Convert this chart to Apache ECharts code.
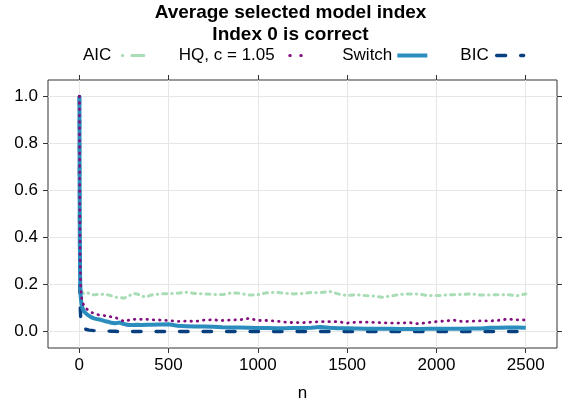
<!DOCTYPE html>
<html>
<head>
<meta charset="utf-8">
<script src="https://cdn.jsdelivr.net/npm/echarts@6/dist/echarts.min.js"></script>
<style>
  html, body { margin: 0; padding: 0; background: #fff; }
  #chart { width: 581px; height: 407px; }
</style>
</head>
<body>
<div id="chart"></div>
<script>
// sample sizes n
var nValues = [1, 2, 3, 5, 8, 12, 18, 26, 35, 45, 55, 70, 82, 100, 120, 140, 160, 180, 200, 225, 250, 275, 300, 325, 350, 375, 400,
  450, 500, 550, 600, 650, 700, 750, 800, 850, 900, 950, 1000, 1050, 1100, 1150, 1200, 1250, 1300, 1350, 1400, 1450, 1500,
  1550, 1600, 1650, 1700, 1750, 1800, 1850, 1900, 1950, 2000, 2050, 2100, 2150, 2200, 2250, 2300, 2350, 2400, 2450, 2500];

// average selected model index per criterion
var aicValues = [1.0, 0.55, 0.35, 0.23, 0.19, 0.17, 0.165, 0.16, 0.162, 0.165, 0.163, 0.158, 0.156, 0.158, 0.157, 0.16, 0.156, 0.152, 0.146, 0.146, 0.142, 0.15, 0.162, 0.16, 0.15, 0.147, 0.155,
  0.16, 0.161, 0.163, 0.167, 0.162, 0.16, 0.158, 0.157, 0.164, 0.163, 0.155, 0.157, 0.165, 0.167, 0.163, 0.16, 0.162, 0.166, 0.165, 0.171, 0.16, 0.153,
  0.157, 0.153, 0.151, 0.146, 0.152, 0.158, 0.16, 0.16, 0.153, 0.153, 0.155, 0.157, 0.158, 0.16, 0.155, 0.156, 0.156, 0.157, 0.152, 0.16];

var hqValues = [1.0, 0.7, 0.5, 0.3, 0.19, 0.15, 0.125, 0.11, 0.1, 0.097, 0.088, 0.081, 0.078, 0.072, 0.07, 0.068, 0.067, 0.062, 0.06, 0.052, 0.043, 0.048, 0.052, 0.052, 0.052, 0.052, 0.05,
  0.049, 0.047, 0.043, 0.045, 0.043, 0.049, 0.05, 0.047, 0.049, 0.05, 0.056, 0.047, 0.047, 0.045, 0.04, 0.038, 0.038, 0.04, 0.042, 0.042, 0.042, 0.036,
  0.04, 0.04, 0.039, 0.037, 0.036, 0.036, 0.038, 0.033, 0.038, 0.042, 0.045, 0.048, 0.042, 0.044, 0.046, 0.045, 0.048, 0.053, 0.05, 0.049];

var switchValues = [1.0, 0.65, 0.4, 0.22, 0.15, 0.12, 0.1, 0.085, 0.078, 0.072, 0.068, 0.06, 0.056, 0.053, 0.05, 0.045, 0.042, 0.037, 0.035, 0.038, 0.032, 0.028, 0.028, 0.029, 0.028, 0.029, 0.029,
  0.03, 0.031, 0.025, 0.023, 0.021, 0.021, 0.02, 0.018, 0.017, 0.017, 0.016, 0.015, 0.015, 0.014, 0.014, 0.015, 0.015, 0.016, 0.019, 0.016, 0.014, 0.014,
  0.013, 0.012, 0.012, 0.012, 0.012, 0.011, 0.011, 0.011, 0.012, 0.012, 0.012, 0.012, 0.012, 0.013, 0.013, 0.016, 0.016, 0.017, 0.017, 0.016];

var bicValues = [1.0, 0.45, 0.2, 0.11, 0.06, 0.03, 0.017, 0.013, 0.01, 0.007, 0.006, 0.005, 0.004, 0.004, 0.003, 0.002, 0.002, 0.001, 0.001, 0, 0, 0, 0, 0, 0, 0, 0,
  0, 0, 0, 0, 0, 0, 0, 0, 0, 0, 0, 0, 0, 0, 0, 0, 0, 0, 0, 0, 0, 0,
  0, 0, 0, 0, 0, 0, 0, 0, 0, 0, 0, 0, 0, 0, 0, 0, 0, 0, 0, 0];

var xTicks = [0, 500, 1000, 1500, 2000, 2500];
var yTicks = [0, 0.2, 0.4, 0.6, 0.8, 1.0];

function pairs(ys) {
  return nValues.map(function (n, i) { return [n, ys[i]]; });
}

var chart = echarts.init(document.getElementById("chart"));
var font = "Liberation Sans";
var tickStyle = { color: "#333" };

chart.setOption({
  animation: false,
  backgroundColor: "#fff",
  title: {
    text: "Average selected model index\nIndex 0 is correct",
    left: "center",
    top: 2,
    padding: 0,
    textStyle: { fontFamily: font, fontSize: 19, fontWeight: "bold", color: "#000", lineHeight: 22 }
  },
  legend: {
    left: 83,
    top: 47,
    padding: 0,
    align: "right",
    itemWidth: 30,
    itemHeight: 18,
    itemGap: 31,
    textStyle: { fontFamily: font, fontSize: 17, color: "#000" },
    data: [
      { name: "AIC", itemStyle: { color: "transparent", borderWidth: 0 },
        lineStyle: { color: "#a8ddb5", width: 3, type: [0.5, 9, 12, 9], dashOffset: 24.5, cap: "round" } },
      { name: "HQ, c = 1.05", itemStyle: { color: "transparent", borderWidth: 0 },
        lineStyle: { color: "#810f7c", width: 3, type: [0.5, 10.5], dashOffset: 1, cap: "round" } },
      { name: "Switch", itemStyle: { color: "transparent", borderWidth: 0 },
        lineStyle: { color: "#2b8cbe", width: 4, type: "solid", cap: "butt" } },
      { name: "BIC", itemStyle: { color: "transparent", borderWidth: 0 },
        lineStyle: { color: "#08407f", width: 3.4, type: [9, 15], dashOffset: 21, cap: "round" } }
    ]
  },
  grid: {
    left: 48, right: 24, top: 80, bottom: 54,
    show: true, borderColor: "#333", borderWidth: 1, backgroundColor: "#fff"
  },
  xAxis: [
    {
      type: "value", min: -175, max: 2675, position: "bottom",
      name: "n", nameLocation: "middle", nameGap: 37,
      nameTextStyle: { fontFamily: font, fontSize: 17, color: "#000" },
      axisLine: { show: false, onZero: false },
      axisTick: { show: true, inside: false, length: 5, customValues: xTicks, lineStyle: tickStyle },
      axisLabel: {
        customValues: xTicks, fontFamily: font, fontSize: 17, color: "#000", margin: 9,
        formatter: function (v) { return String(v); }
      },
      splitLine: { show: true, lineStyle: { color: "#e6e6e6", width: 1 } }
    },
    {
      type: "value", min: -175, max: 2675, position: "top",
      axisLine: { show: false, onZero: false },
      axisTick: { show: true, inside: false, length: 5, customValues: xTicks, lineStyle: tickStyle },
      axisLabel: { show: false },
      splitLine: { show: false }
    }
  ],
  yAxis: [
    {
      type: "value", min: -0.07, max: 1.07, position: "left",
      axisLine: { show: false, onZero: false },
      axisTick: { show: true, inside: false, length: 5, customValues: yTicks, lineStyle: tickStyle },
      axisLabel: {
        customValues: yTicks, fontFamily: font, fontSize: 17, color: "#000", margin: 10,
        formatter: function (v) { return v.toFixed(1); }
      },
      splitLine: { show: true, lineStyle: { color: "#e6e6e6", width: 1 } }
    },
    {
      type: "value", min: -0.07, max: 1.07, position: "right",
      axisLine: { show: false, onZero: false },
      axisTick: { show: true, inside: false, length: 5, customValues: yTicks, lineStyle: tickStyle },
      axisLabel: { show: false },
      splitLine: { show: false }
    }
  ],
  series: [
    {
      name: "AIC", type: "line", symbol: "none", data: pairs(aicValues),
      lineStyle: { color: "#a8ddb5", width: 3, type: [0.5, 5, 4, 5], cap: "round" },
      itemStyle: { color: "#a8ddb5" }
    },
    {
      name: "BIC", type: "line", symbol: "none", data: pairs(bicValues),
      lineStyle: { color: "#08407f", width: 3.4, type: [8.5, 15], cap: "round" },
      itemStyle: { color: "#08407f" }
    },
    {
      name: "Switch", type: "line", symbol: "none", data: pairs(switchValues),
      lineStyle: { color: "#2b8cbe", width: 4, type: "solid", join: "round" },
      itemStyle: { color: "#2b8cbe" }
    },
    {
      name: "HQ, c = 1.05", type: "line", symbol: "none", data: pairs(hqValues),
      lineStyle: { color: "#810f7c", width: 2.8, type: [0.5, 5.8], cap: "round" },
      itemStyle: { color: "#810f7c" }
    }
  ]
});
</script>
</body>
</html>
